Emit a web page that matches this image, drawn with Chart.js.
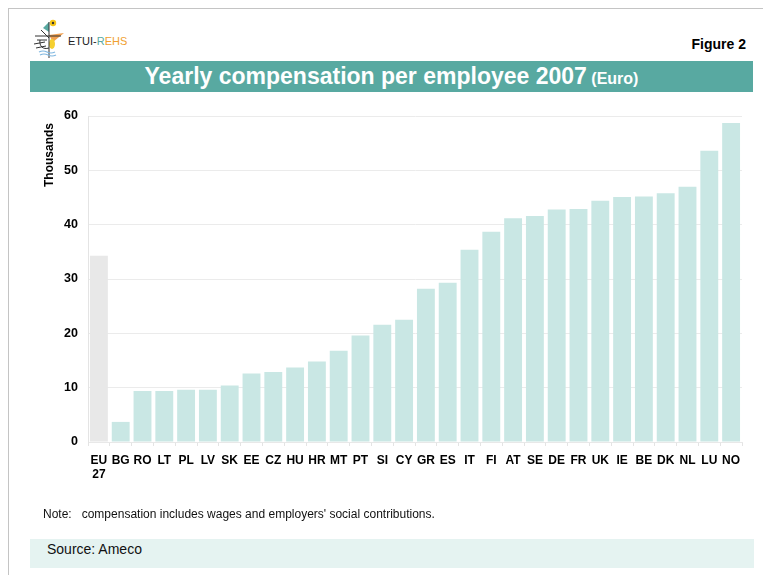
<!DOCTYPE html>
<html>
<head>
<meta charset="utf-8">
<script src="https://cdn.jsdelivr.net/npm/chart.js@4"></script>
<style>
  html, body { margin:0; padding:0; width:763px; height:575px; background:#fff; overflow:hidden; font-family:"Liberation Sans", Arial, sans-serif; }
  #frameTop { position:absolute; left:8px; top:8px; width:755px; height:0; border-top:1px solid #c4c4c4; }
  #frameLeft { position:absolute; left:8px; top:8px; width:0; height:567px; border-left:1px solid #c4c4c4; }
  #logo { position:absolute; left:31px; top:18px; }
  #logoText { position:absolute; left:68px; top:35px; font-size:11px; color:#222; letter-spacing:0px; }
  #fig { position:absolute; right:17px; top:36px; font-size:14px; font-weight:bold; color:#000; }
  #titleBar { position:absolute; left:30px; top:61px; width:723px; height:31px; background:#58A9A1; color:#fff; font-weight:bold; text-align:center; line-height:31px; }
  #titleBar .big { font-size:23px; }
  #titleBar .small { font-size:16px; }
  #note { position:absolute; left:43px; top:507px; font-size:12px; color:#111; }
  #source { position:absolute; left:30px; top:539px; width:724px; height:29px; background:#E5F3F1; font-size:14px; color:#111; line-height:21px; }
  #source span { margin-left:17px; }
  #wrap { position:absolute; left:0; top:0; width:763px; height:575px; }
</style>
</head>
<body>
<div id="frameTop"></div>
<div id="frameLeft"></div>
<svg id="logo" width="36" height="42" viewBox="0 0 36 42">
  <polygon points="12,10 18,4 18,14" fill="#58A9A1"/>
  <circle cx="22" cy="5" r="3.2" fill="#F5C518"/>
  <circle cx="22" cy="5" r="1.2" fill="#333"/>
  <polygon points="18,17 33,15 22,24" fill="#F0A050"/>
  <ellipse cx="21" cy="26" rx="3" ry="5" fill="#F5D030"/>
  <path d="M18,4 L18,40 M4,18 L30,18 M6,22 L16,22 M3,26 L14,24 M5,30 L15,28 M10,12 L18,20 M18,30 C12,32 8,28 9,22" stroke="#333" stroke-width="1" fill="none"/>
  <path d="M8,34 Q12,32 16,34 T24,34 M9,37 Q13,35 17,37 T25,37" stroke="#7FB7E0" stroke-width="1.2" fill="none"/>
</svg>
<div id="logoText">ETUI-<span style="color:#58A9A1">R</span><span style="color:#F0A030">EHS</span></div>
<div id="fig">Figure 2</div>
<div id="titleBar"><span class="big">Yearly compensation per employee 2007</span> <span class="small">(Euro)</span></div>
<div id="wrap"><canvas id="c" width="763" height="575"></canvas></div>
<div id="note">Note:&nbsp;&nbsp; compensation includes wages and employers' social contributions.</div>
<div id="source"><span>Source: Ameco</span></div>
<script>
const categories = [["EU","27"],"BG","RO","LT","PL","LV","SK","EE","CZ","HU","HR","MT","PT","SI","CY","GR","ES","IT","FI","AT","SE","DE","FR","UK","IE","BE","DK","NL","LU","NO"];
const compensationThousands = [34.3,3.7,9.4,9.4,9.6,9.6,10.4,12.6,12.9,13.7,14.8,16.8,19.6,21.6,22.5,28.2,29.3,35.4,38.7,41.2,41.6,42.8,42.9,44.4,45.1,45.2,45.8,47.0,53.6,58.7];
const yTicks = [0,10,20,30,40,50,60];
const yAxisTitle = "Thousands";

const barColors = categories.map((c,i) => i === 0 ? "#E8E8E8" : "#C9E7E4");

const yTitlePlugin = {
  id: 'yTitle',
  afterDraw(chart) {
    const ctx = chart.ctx;
    ctx.save();
    ctx.translate(50, 155);
    ctx.rotate(-Math.PI/2);
    ctx.font = 'bold 12px "Liberation Sans", Arial, sans-serif';
    ctx.fillStyle = '#000';
    ctx.textAlign = 'center';
    ctx.textBaseline = 'middle';
    ctx.fillText(yAxisTitle, 0, 0);
    ctx.restore();
  }
};

new Chart(document.getElementById('c'), {
  type: 'bar',
  data: {
    labels: categories,
    datasets: [{
      data: compensationThousands,
      backgroundColor: barColors,
      borderWidth: 0,
      categoryPercentage: 1.0,
      barPercentage: 0.82
    }]
  },
  options: {
    responsive: false,
    animation: false,
    layout: { padding: { left: 0, right: 21, top: 116, bottom: 0 } },
    plugins: { legend: { display: false }, tooltip: { enabled: false } },
    scales: {
      x: {
        offset: true,
        grid: { display: true, offset: true, drawOnChartArea: false, drawTicks: true, tickLength: 4, color: '#e4e4e4' },
        border: { display: true, color: '#e8e8e8' },
        ticks: { color: '#000', font: { family: '"Liberation Sans", Arial, sans-serif', size: 12, weight: 'bold' }, padding: 7, maxRotation: 0, autoSkip: false },
        afterFit: s => { s.height = 133; }
      },
      y: {
        min: 0, max: 60,
        afterBuildTicks: s => { s.ticks = yTicks.map(v => ({ value: v })); },
        grid: { color: '#ebebeb', drawTicks: false },
        border: { display: true, color: '#e4e4e4' },
        ticks: { color: '#000', font: { family: '"Liberation Sans", Arial, sans-serif', size: 12.5, weight: 'bold' }, padding: 10 },
        afterFit: s => { s.width = 88; }
      }
    }
  },
  plugins: [yTitlePlugin]
});
</script>
</body>
</html>
